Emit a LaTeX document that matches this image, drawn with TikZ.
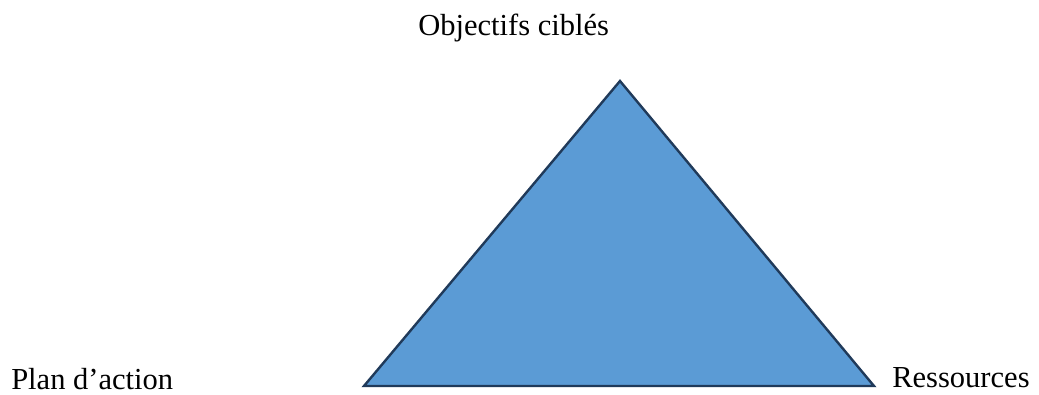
\documentclass[tikz,border=0pt]{standalone}
\usepackage{fontspec}
\setmainfont{Liberation Serif}
\usetikzlibrary{positioning}
\definecolor{trifill}{HTML}{5B9BD5}
\definecolor{triedge}{HTML}{203A5A}
\tikzset{every node/.style={font=\fontsize{22.9}{27}\selectfont},
  corner/.style={anchor=base west,inner sep=0pt},
  tri/.style={draw=triedge,fill=trifill,line width=1.8pt,line join=miter}}

\begin{document}
\begin{tikzpicture}[x=.75pt,y=.75pt]
\useasboundingbox (0,0) rectangle (1039,394);
\coordinate (apex) at (620,313);\coordinate (bl) at (364,8);\coordinate (br) at (874,8);
\draw[tri] (bl)--(apex)--(br)--cycle;
\node[corner] (obj) at (418,359) {Objectifs ciblés};
\node[corner] (plan) at (11,5) {Plan d’action};
\node[corner] (res) at (892,7) {Ressources};
\end{tikzpicture}
\end{document}
